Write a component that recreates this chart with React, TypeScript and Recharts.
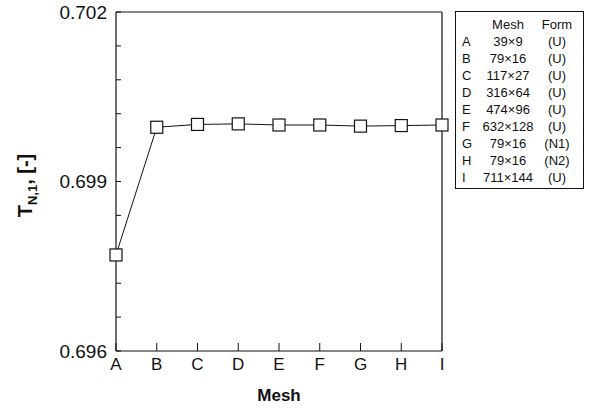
import { Line, LineChart, ReferenceLine, XAxis, YAxis } from "recharts";

const FONT = "'Liberation Sans', Arial, Helvetica, sans-serif";
const INK = "#111";

// grid convergence: one T value per mesh
const meshIds = ["A", "B", "C", "D", "E", "F", "G", "H", "I"];
const tValues = [0.6977, 0.69996, 0.70001, 0.70002, 0.7, 0.7, 0.69998, 0.69999, 0.7];

// mesh table shown at the right
const meshSizes = ["39×9", "79×16", "117×27", "316×64", "474×96", "632×128", "79×16", "79×16", "711×144"];
const meshForms = ["(U)", "(U)", "(U)", "(U)", "(U)", "(U)", "(N1)", "(N2)", "(U)"];

const yDomain = [0.696, 0.702];
const yTicks = [0.696, 0.6966, 0.6972, 0.6978, 0.6984, 0.699, 0.6996, 0.7002, 0.7008, 0.7014, 0.702];
const yLabelled = [0.696, 0.699, 0.702];

const data = meshIds.map((mesh, i) => ({ mesh, t: tValues[i] }));

function yTickText(v: number) {
  return yLabelled.some((l) => Math.abs(l - v) < 1e-7) ? v.toFixed(3) : "";
}

function SquareDot(props: any) {
  const { cx, cy, index } = props;
  if (cx == null || cy == null) return null;
  const s = 12;
  return (
    <rect key={`dot-${index}`} x={cx - s / 2} y={cy - s / 2} width={s} height={s} fill="#fff" stroke={INK} strokeWidth={1.2} />
  );
}

function YTitle({ viewBox }: any) {
  const x = viewBox.x + 32;
  const y = viewBox.y + viewBox.height / 2 + 4;
  return (
    <text
      x={x}
      y={y}
      transform={`rotate(-90, ${x}, ${y})`}
      textAnchor="middle"
      fontFamily={FONT}
      fontWeight="bold"
      fontSize={20}
      fill={INK}
    >
      T
      <tspan dy={5} fontSize={13}>N,1</tspan>
      <tspan dy={-5}>, [-]</tspan>
    </text>
  );
}

function XTitle({ viewBox }: any) {
  return (
    <text
      x={viewBox.x + viewBox.width / 2}
      y={viewBox.y + 50}
      textAnchor="middle"
      fontFamily={FONT}
      fontWeight="bold"
      fontSize={17}
      fill={INK}
    >
      Mesh
    </text>
  );
}

function MeshTable() {
  const cell = { textAlign: "center" as const, whiteSpace: "nowrap" as const };
  return (
    <div
      style={{
        position: "absolute",
        left: 455,
        top: 11,
        width: 129,
        border: `1px solid ${INK}`,
        padding: "4px 0 2px 6px",
        fontFamily: FONT,
        fontSize: 13,
        lineHeight: "17px",
        color: INK,
        display: "grid",
        gridTemplateColumns: "16px 60px 38px",
        boxSizing: "border-box",
      }}
    >
      <span />
      <span style={cell}>Mesh</span>
      <span style={cell}>Form</span>
      {meshIds.map((id, i) => [
        <span key={`id-${id}`}>{id}</span>,
        <span key={`sz-${id}`} style={cell}>{meshSizes[i]}</span>,
        <span key={`fm-${id}`} style={cell}>{meshForms[i]}</span>,
      ])}
    </div>
  );
}

export default function App() {
  return (
    <div style={{ position: "absolute", left: 0, top: 0, width: 589, height: 408, background: "#fff" }}>
      <LineChart width={589} height={408} data={data} margin={{ top: 12, right: 147, bottom: 0, left: 0 }}>
        <XAxis
          dataKey="mesh"
          type="category"
          scale="point"
          padding={{ left: 0, right: 0 }}
          interval={0}
          height={57}
          tickSize={-8}
          tickMargin={15}
          tick={{ fontSize: 17, fill: INK, fontFamily: FONT }}
          tickLine={{ stroke: INK }}
          axisLine={{ stroke: INK, strokeWidth: 1.2 }}
          label={{ content: (p: any) => <XTitle viewBox={p.viewBox} /> }}
        />
        <YAxis
          type="number"
          domain={yDomain}
          ticks={yTicks}
          interval={0}
          width={116}
          tickSize={-5}
          tickMargin={14}
          tickFormatter={yTickText}
          tick={{ fontSize: 19, fill: INK, fontFamily: FONT }}
          tickLine={{ stroke: INK }}
          axisLine={{ stroke: INK, strokeWidth: 1.2 }}
          label={{ content: (p: any) => <YTitle viewBox={p.viewBox} /> }}
        />
        {/* closing frame: top and right edges of the plot box */}
        <ReferenceLine y={yDomain[1]} stroke={INK} strokeWidth={1.2} />
        <ReferenceLine x={meshIds[meshIds.length - 1]} stroke={INK} strokeWidth={1.2} />
        <Line
          dataKey="t"
          type="linear"
          stroke={INK}
          strokeWidth={1}
          dot={<SquareDot />}
          activeDot={false}
          isAnimationActive={false}
        />
      </LineChart>
      <MeshTable />
    </div>
  );
}
